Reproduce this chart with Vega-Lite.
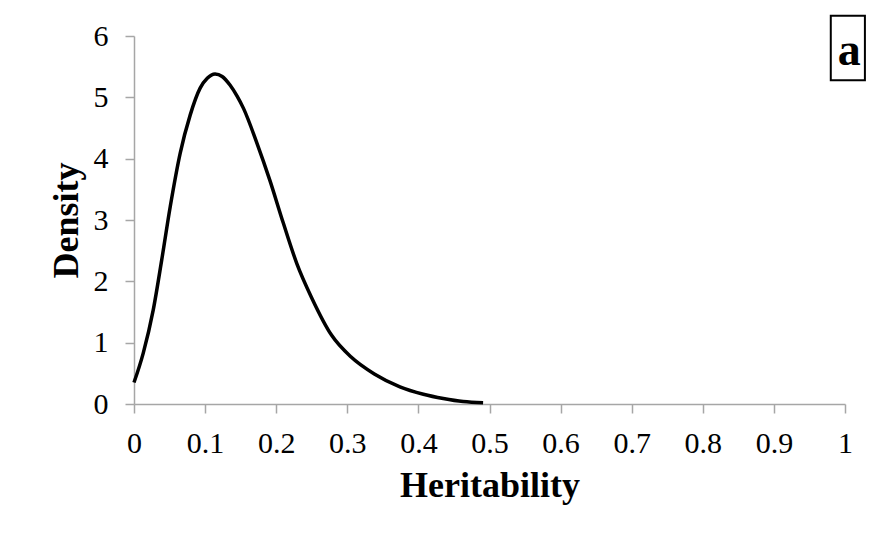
{
  "$schema": "https://vega.github.io/schema/vega-lite/v6.json",
  "autosize": "none",
  "width": 711,
  "height": 368,
  "padding": {"left": 134, "top": 36, "right": 28, "bottom": 134},
  "background": "white",
  "config": {
    "view": {"stroke": null},
    "font": "Liberation Serif",
    "axis": {
      "domainColor": "#a6a6a6",
      "tickColor": "#a6a6a6",
      "domainWidth": 1.5,
      "tickWidth": 1.5,
      "grid": false,
      "labelFont": "Liberation Serif",
      "labelFontSize": 30,
      "labelColor": "#000000",
      "titleFont": "Liberation Serif",
      "titleFontSize": 36,
      "titleFontWeight": "bold",
      "titleColor": "#000000"
    }
  },
  "datasets": {
    "curve": [
      {"h": 0.0, "d": 0.35},
      {"h": 0.013, "d": 0.83},
      {"h": 0.027, "d": 1.53},
      {"h": 0.039, "d": 2.35},
      {"h": 0.051, "d": 3.22},
      {"h": 0.065, "d": 4.09},
      {"h": 0.079, "d": 4.71},
      {"h": 0.093, "d": 5.15},
      {"h": 0.103, "d": 5.31},
      {"h": 0.114, "d": 5.38},
      {"h": 0.124, "d": 5.34},
      {"h": 0.135, "d": 5.2},
      {"h": 0.145, "d": 5.02},
      {"h": 0.154, "d": 4.82},
      {"h": 0.173, "d": 4.25},
      {"h": 0.191, "d": 3.65},
      {"h": 0.21, "d": 2.95},
      {"h": 0.229, "d": 2.29},
      {"h": 0.25, "d": 1.73},
      {"h": 0.278, "d": 1.12},
      {"h": 0.305, "d": 0.77},
      {"h": 0.338, "d": 0.49},
      {"h": 0.374, "d": 0.28},
      {"h": 0.407, "d": 0.16},
      {"h": 0.435, "d": 0.09},
      {"h": 0.463, "d": 0.04},
      {"h": 0.491, "d": 0.02}
    ],
    "panel": [
      {"x1": 0.98, "x2": 1.028, "y1": 5.28, "y2": 6.33, "xt": 1.006, "yt": 5.53, "label": "a"}
    ]
  },
  "layer": [
    {
      "data": {"name": "curve"},
      "mark": {"type": "line", "color": "#000000", "strokeWidth": 3.5, "interpolate": "monotone", "clip": false},
      "encoding": {
        "x": {
          "field": "h", "type": "quantitative",
          "scale": {"domain": [0, 1], "nice": false, "zero": false},
          "axis": {
            "title": "Heritability",
            "values": [0, 0.1, 0.2, 0.3, 0.4, 0.5, 0.6, 0.7, 0.8, 0.9, 1],
            "format": "~g",
            "tickSize": 9,
            "labelPadding": 15,
            "titlePadding": 10,
            "labelFlush": false,
            "labelOverlap": false
          }
        },
        "y": {
          "field": "d", "type": "quantitative",
          "scale": {"domain": [0, 6], "nice": false},
          "axis": {
            "title": "Density",
            "values": [0, 1, 2, 3, 4, 5, 6],
            "format": "d",
            "tickSize": 9,
            "labelPadding": 17,
            "titlePadding": 8,
            "labelFlush": false,
            "labelOverlap": false
          }
        }
      }
    },
    {
      "data": {"name": "panel"},
      "mark": {"type": "rect", "fill": "white", "stroke": "#000000", "strokeWidth": 2, "clip": false},
      "encoding": {
        "x": {"field": "x1", "type": "quantitative"},
        "x2": {"field": "x2"},
        "y": {"field": "y1", "type": "quantitative"},
        "y2": {"field": "y2"}
      }
    },
    {
      "data": {"name": "panel"},
      "mark": {"type": "text", "font": "Liberation Serif", "fontSize": 46, "fontWeight": "bold", "align": "center", "baseline": "alphabetic", "color": "#000000", "clip": false},
      "encoding": {
        "x": {"field": "xt", "type": "quantitative"},
        "y": {"field": "yt", "type": "quantitative"},
        "text": {"field": "label"}
      }
    }
  ]
}
